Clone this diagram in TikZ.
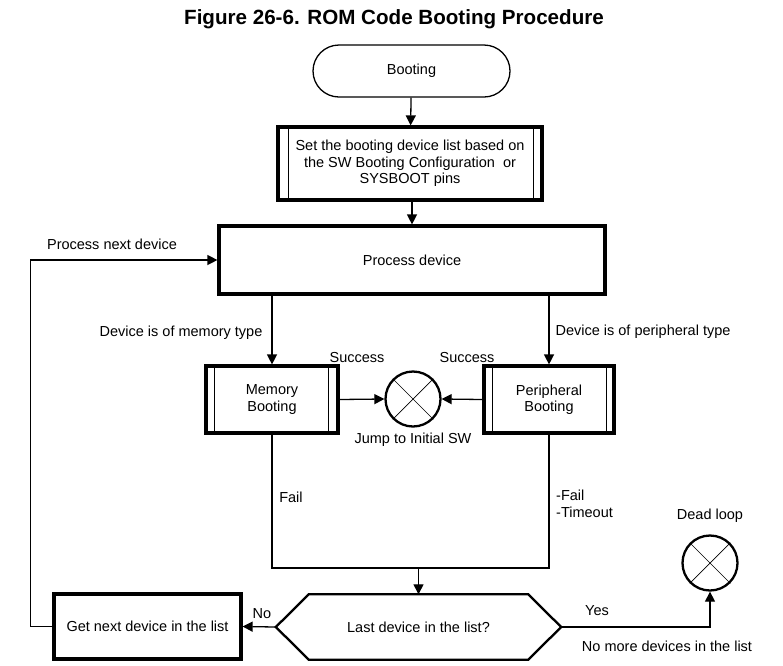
\documentclass[tikz,border=0pt]{standalone}
\usepackage{fontspec}
\setmainfont{Liberation Sans}
\usetikzlibrary{arrows.meta}
\begin{document}
\begin{tikzpicture}[x=1pt,y=-1pt,
  every node/.style={font=\fontsize{14.5}{16.5}\selectfont, inner sep=0pt},
  line/.style={line width=1.3pt},
  arr/.style={line width=1.3pt,-{Triangle[length=10pt,width=10pt]}},
  thickbox/.style={draw,line width=3.2pt,align=center},
  lbl/.style={align=center},
  ring/.style={draw,circle,line width=2.3pt,minimum size=55pt}
]
\useasboundingbox (0,0) rectangle (783,665);
\node[font=\fontsize{20.6}{24}\selectfont\bfseries] (title) at (394,19) {Figure 26-6. ROM Code Booting Procedure};

\node[draw,line width=1.3pt,rounded corners=26pt,minimum width=197pt,minimum height=52pt] (boot) at (411.5,71) {Booting};

\node[thickbox,minimum width=264pt,minimum height=73pt] (set) at (410,163.5) {Set the booting device list based on\\the SW Booting Configuration\ \ or\\SYSBOOT pins};
\draw[line] ([xshift=12pt]set.north west) -- ([xshift=12pt]set.south west);
\draw[line] ([xshift=-10pt]set.north east) -- ([xshift=-10pt]set.south east);

\node[thickbox,minimum width=386pt,minimum height=68pt] (proc) at (412,260) {Process device};

\node[thickbox,minimum width=132pt,minimum height=67pt] (mem) at (272,399.5) {Memory\\Booting};
\draw[line] ([xshift=10pt]mem.north west) -- ([xshift=10pt]mem.south west);
\draw[line] ([xshift=-11pt]mem.north east) -- ([xshift=-11pt]mem.south east);

\node[thickbox,minimum width=130pt,minimum height=67pt] (per) at (549,399.5) {Peripheral\\Booting};
\draw[line] ([xshift=10pt]per.north west) -- ([xshift=10pt]per.south west);
\draw[line] ([xshift=-9pt]per.north east) -- ([xshift=-9pt]per.south east);

\node[ring] (jump) at (413,399) {};
\draw[line width=0.7pt] (jump.north west) -- (jump.south east);
\draw[line width=0.7pt] (jump.north east) -- (jump.south west);

\node[ring] (dead) at (710,563) {};
\draw[line width=0.7pt] (dead.north west) -- (dead.south east);
\draw[line width=0.7pt] (dead.north east) -- (dead.south west);

\node[minimum width=285pt,minimum height=65pt] (dec) at (418.5,627) {Last device in the list?};
\draw[line width=2.3pt] (dec.west) -- ([xshift=33pt]dec.north west) -- ([xshift=-33pt]dec.north east) -- (dec.east) -- ([xshift=-33pt]dec.south east) -- ([xshift=33pt]dec.south west) -- cycle;

\node[thickbox,minimum width=187pt,minimum height=65pt] (get) at (147.5,626.5) {Get next device in the list};

% connectors
\draw[arr] (boot) -- (set);
\draw[arr] (set.south -| proc.north) -- (proc.north);
\draw[arr] (mem.north |- proc.south) -- (mem.north);
\draw[arr] (per.north |- proc.south) -- (per.north);
\draw[arr] (mem.east) -- (jump.west);
\draw[arr] (per.west) -- (jump.east);
\coordinate (merge) at (418.5,568);
\draw[line] (mem.south) |- (merge) -| (per.south);
\draw[arr] (merge) -- (dec.north);
\draw[arr] (dec.west) -- (get.east);
\draw[arr] (dec.east) -| (dead.south);
\draw[arr] (get.west) -- ++(-22,0) |- (proc.west);

% labels
\node[lbl] (l1) at (112,244) {Process next device};
\node[lbl] (l2) at (181,333) {Device is of memory type};
\node[lbl] (l3) at (643,332) {Device is of peripheral type};
\node[lbl] (l4) at (357,357) {Success};
\node[lbl] (l5) at (467,357) {Success};
\node[lbl] (l6) at (413,440) {Jump to Initial SW};
\node[lbl] (l7) at (291,497) {Fail};
\node[align=left,anchor=west] (l8) at (556,504) {-Fail\\-Timeout};
\node[lbl] (l9) at (710,516) {Dead loop};
\node[lbl] (l10) at (597,611) {Yes};
\node[lbl] (l11) at (667,646) {No more devices in the list};
\node[lbl] (l12) at (262,614) {No};
\end{tikzpicture}
\end{document}
